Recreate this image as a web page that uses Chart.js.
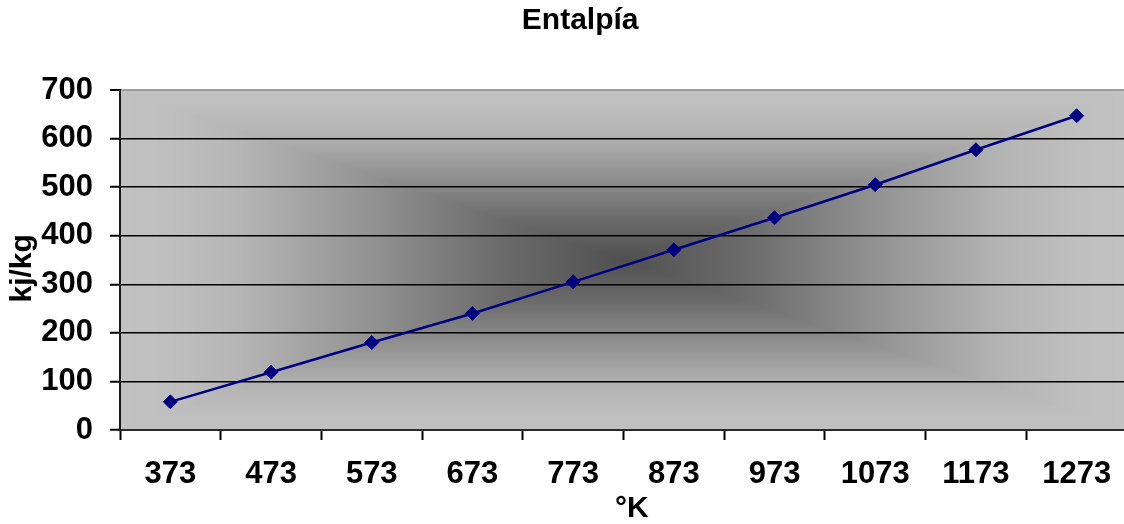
<!DOCTYPE html>
<html>
<head>
<meta charset="utf-8">
<script src="https://cdn.jsdelivr.net/npm/chart.js@4/dist/chart.umd.min.js"></script>
<style>
  html, body { margin: 0; padding: 0; overflow: hidden; background: #fff; width: 1124px; height: 524px; }
  canvas { display: block; }
</style>
</head>
<body>
<canvas id="chart" width="1128" height="524"></canvas>
<script>
// Temperature categories (°K) and enthalpy values (kj/kg)
const temperaturesK = ['373', '473', '573', '673', '773', '873', '973', '1073', '1173', '1273'];
const enthalpyKjKg = [58, 119, 180, 240, 305, 371, 437, 505, 577, 647];
const enthalpyTicks = [0, 100, 200, 300, 400, 500, 600, 700];

const FONT = "'Liberation Sans', Arial, sans-serif";

// Grey "from centre" rectangular shading behind the plot area
const plotShade = {
  id: 'plotShade',
  beforeDraw(chart) {
    const { ctx, chartArea } = chart;
    const left = Math.round(chartArea.left), top = Math.round(chartArea.top);
    const w = Math.round(chartArea.right) - left, h = Math.round(chartArea.bottom) - top;
    if (!this.img || this.w !== w || this.h !== h) {
      const stops = [[0, 80], [0.25, 108], [0.5, 146], [0.75, 180], [0.9, 191], [1, 193]];
      const shade = t => {
        for (let i = 1; i < stops.length; i++) {
          if (t <= stops[i][0]) {
            const [t0, g0] = stops[i - 1], [t1, g1] = stops[i];
            return g0 + (g1 - g0) * (t - t0) / (t1 - t0);
          }
        }
        return stops[stops.length - 1][1];
      };
      const off = document.createElement('canvas');
      off.width = w; off.height = h;
      const octx = off.getContext('2d');
      const img = octx.createImageData(w, h);
      const cx = w / 2, cy = h / 2;
      for (let y = 0; y < h; y++) {
        const v = Math.abs(y + 0.5 - cy) / cy;
        for (let x = 0; x < w; x++) {
          const u = Math.abs(x + 0.5 - cx) / cx;
          const g = Math.round(shade(Math.min(1, Math.max(u, v))));
          const k = (y * w + x) * 4;
          img.data[k] = g; img.data[k + 1] = g; img.data[k + 2] = g; img.data[k + 3] = 255;
        }
      }
      octx.putImageData(img, 0, 0);
      this.img = off; this.w = w; this.h = h;
    }
    ctx.drawImage(this.img, left, top);
  }
};

new Chart(document.getElementById('chart'), {
  type: 'line',
  data: {
    labels: temperaturesK,
    datasets: [{
      data: enthalpyKjKg,
      borderColor: '#000080',
      borderWidth: 2.5,
      tension: 0,
      pointStyle: 'rectRot',
      pointRadius: 7,
      pointHoverRadius: 7,
      pointBackgroundColor: '#000080',
      pointBorderColor: '#000080',
      pointBorderWidth: 1
    }]
  },
  plugins: [plotShade],
  options: {
    responsive: false,
    animation: false,
    events: [],
    layout: { autoPadding: false, padding: { left: 0, right: 1, top: 0, bottom: 0 } },
    plugins: {
      legend: { display: false },
      tooltip: { enabled: false },
      title: {
        display: true,
        text: '    Entalpía',
        color: '#000',
        font: { family: FONT, size: 30, weight: 'bold', lineHeight: 1.2 },
        padding: { top: 3, bottom: 51 }
      }
    },
    scales: {
      x: {
        type: 'category',
        offset: true,
        grid: {
          display: true,
          offset: true,
          drawOnChartArea: false,
          drawTicks: true,
          tickLength: 10,
          tickColor: '#000',
          tickWidth: 2
        },
        border: { display: true, color: '#2a2a2a', width: 2 },
        ticks: {
          color: '#000',
          padding: 16,
          maxRotation: 0,
          autoSkip: false,
          font: { family: FONT, size: 31, weight: 'bold', lineHeight: 1.2 }
        },
        title: {
          display: true,
          text: '  °K',
          color: '#000',
          font: { family: FONT, size: 30, weight: 'bold', lineHeight: 1 },
          padding: { top: 0, bottom: 0 }
        },
        afterFit(scale) { scale.height = 94; }
      },
      y: {
        min: 0,
        max: 700,
        afterBuildTicks(scale) { scale.ticks = enthalpyTicks.map(v => ({ value: v })); },
        grid: {
          color: c => (c.tick && c.tick.value === 700 ? '#9c9c9c' : '#000'),
          lineWidth: c => (c.tick && c.tick.value === 700 ? 2 : 1.5),
          drawTicks: true,
          tickLength: 10,
          tickColor: '#000',
          tickWidth: 2
        },
        border: { display: true, color: '#1a1a1a', width: 2 },
        ticks: {
          color: '#000',
          padding: 17,
          font: { family: FONT, size: 31, weight: 'bold', lineHeight: 1.2 }
        },
        title: {
          display: true,
          text: 'kj/kg  ',
          color: '#000',
          font: { family: FONT, size: 30, weight: 'bold', lineHeight: 1 },
          padding: { top: 8, bottom: 0 }
        },
        afterFit(scale) { scale.width = 120; }
      }
    }
  }
});
</script>
</body>
</html>
